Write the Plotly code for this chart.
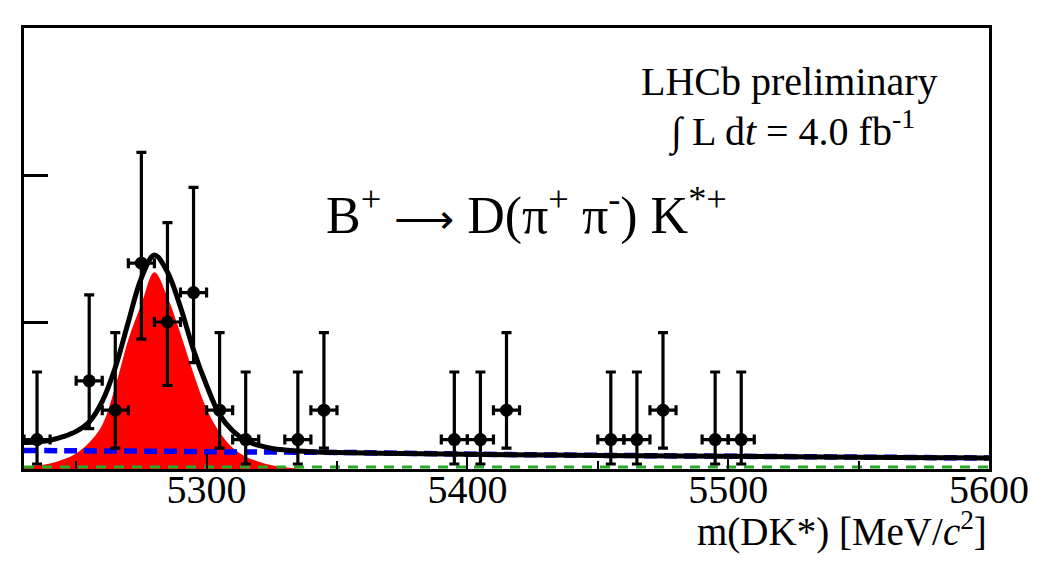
import plotly.graph_objects as go

# ---------------- data ----------------
bin_centers = [5235, 5255, 5265, 5275, 5285, 5295, 5305, 5315, 5335, 5345,
               5395, 5405, 5415, 5455, 5465, 5475, 5495, 5505]
counts      = [1, 3, 2, 7, 5, 6, 2, 1, 1, 2,
               1, 1, 2, 1, 1, 2, 1, 1]
err_up      = [2.30, 2.92, 2.64, 3.77, 3.38, 3.58, 2.64, 2.30, 2.30, 2.64,
               2.30, 2.30, 2.64, 2.30, 2.30, 2.64, 2.30, 2.30]
err_down    = [0.83, 1.63, 1.29, 2.58, 2.16, 2.38, 1.29, 0.83, 0.83, 1.29,
               0.83, 0.83, 1.29, 0.83, 0.83, 1.29, 0.83, 0.83]
bin_half    = [5] * len(bin_centers)

sig_x = [5230, 5235, 5240, 5245, 5250, 5255, 5260, 5265, 5270, 5275, 5280,
         5285, 5290, 5295, 5300, 5305, 5310, 5315, 5320, 5325, 5330, 5335, 5340, 5350]
sig_y = [0.08, 0.12, 0.19, 0.32, 0.53, 0.90, 1.50, 2.80, 4.40, 5.60, 6.69,
         5.85, 4.60, 3.25, 2.05, 1.25, 0.72, 0.42, 0.25, 0.13, 0.06, 0.02, 0.0, 0.0]

tot_x = [5230, 5235, 5240, 5245, 5250, 5255, 5260, 5265, 5270, 5275, 5280,
         5285, 5290, 5295, 5300, 5305, 5310, 5315, 5320, 5325, 5330, 5340,
         5350, 5375, 5400, 5450, 5500, 5550, 5600]
tot_y = [0.90, 0.93, 0.98, 1.10, 1.28, 1.60, 2.30, 3.45, 5.00, 6.50, 7.28,
         6.70, 5.50, 4.05, 2.85, 1.85, 1.30, 0.97, 0.80, 0.70, 0.65, 0.59,
         0.56, 0.53, 0.50, 0.46, 0.43, 0.40, 0.37]

bkg_x = [5230, 5250, 5270, 5290, 5310, 5330, 5350, 5400, 5450, 5500, 5550, 5600]
bkg_y = [0.63, 0.62, 0.61, 0.60, 0.58, 0.575, 0.565, 0.505, 0.465, 0.435, 0.405, 0.375]

oth_x = [5230, 5600]
oth_y = [0.07, 0.07]

x_ticks = [5300, 5400, 5500, 5600]
x_tick_labels = ["5300", "5400", "5500", "5600"]
y_ticks = [0, 5, 10, 15]

x_range = [5230, 5600]
y_range = [0, 15]

# ---------------- figure ----------------
# the page body has an 8px default margin; compensate so the frame lands
# at x 24..996, y 28..469 in the 1049x564 window
OFF = 8
W, H = 1049 - 2 * OFF, 564 - 2 * OFF
ML, MT = 24 - OFF, 28 - OFF
MR = (OFF + W) - 996
MB = (OFF + H) - 469
PW, PH = W - ML - MR, H - MT - MB

def px2paper(px, py):
    # px, py are window pixel positions
    return (px - OFF - ML) / PW, (OFF + H - MB - py) / PH

FONT = "Liberation Serif, Times New Roman, serif"

fig = go.Figure()

fig.add_trace(go.Scatter(x=sig_x, y=sig_y, mode="lines", line=dict(width=0, shape="spline", color="red"),
                         fill="tozeroy", fillcolor="rgb(255,0,0)", hoverinfo="skip"))
fig.add_trace(go.Scatter(x=bkg_x, y=bkg_y, mode="lines",
                         line=dict(color="rgb(0,0,255)", width=5.5, dash="13px,7px", shape="spline")))
fig.add_trace(go.Scatter(x=oth_x, y=oth_y, mode="lines",
                         line=dict(color="rgb(40,170,40)", width=3, dash="10px,8px")))
fig.add_trace(go.Scatter(x=tot_x, y=tot_y, mode="lines",
                         line=dict(color="black", width=5, shape="spline")))
fig.add_trace(go.Scatter(
    x=bin_centers, y=counts, mode="markers",
    marker=dict(symbol="circle", size=13, color="black"),
    error_y=dict(type="data", symmetric=False, array=err_up, arrayminus=err_down,
                 thickness=3.2, width=5, color="black"),
    error_x=dict(type="data", array=bin_half, thickness=3.2, width=5, color="black"),
))

fig.update_layout(
    width=W, height=H,
    margin=dict(l=ML, r=MR, t=MT, b=MB, pad=0),
    paper_bgcolor="white", plot_bgcolor="white",
    showlegend=False,
    font=dict(family=FONT, color="black", size=40),
)
fig.update_xaxes(
    range=x_range, tickmode="array", tickvals=x_ticks, ticktext=x_tick_labels,
    ticks="inside", ticklen=15, tickwidth=2, tickcolor="black",
    minor=dict(dtick=50, tick0=5250, ticks="inside", ticklen=8, tickwidth=2, tickcolor="black"),
    showline=True, linewidth=3, linecolor="black", mirror=True,
    showgrid=False, zeroline=False,
    tickfont=dict(family=FONT, size=40, color="black"),
    ticklabelstandoff=-17,
)
fig.update_yaxes(
    range=y_range, tickmode="array", tickvals=y_ticks,
    ticks="inside", ticklen=24, tickwidth=3, tickcolor="black",
    showticklabels=False,
    showline=True, linewidth=3, linecolor="black", mirror=True,
    showgrid=False, zeroline=False,
)

def add_text(text, px, py, size, xanchor="center"):
    xp, yp = px2paper(px, py)
    fig.add_annotation(text=text, x=xp, y=yp, xref="paper", yref="paper",
                       xanchor=xanchor, yanchor="middle", showarrow=False,
                       font=dict(family=FONT, size=size, color="black"))

add_text("LHCb preliminary", 795, 81, 40)
add_text("∫ L d<i>t</i> = 4.0 fb<sup>-1</sup>", 797, 129, 40)
add_text('B<sup>+</sup> <span style="font-size:42px">⟶</span> D(π<sup>+</sup> π<sup>-</sup>) K<sup>*+</sup>',
         530, 212, 52)
add_text("m(DK*) [MeV/<i>c</i><sup>2</sup>]", 996, 529, 39, xanchor="right")

fig.write_html("out.html")
